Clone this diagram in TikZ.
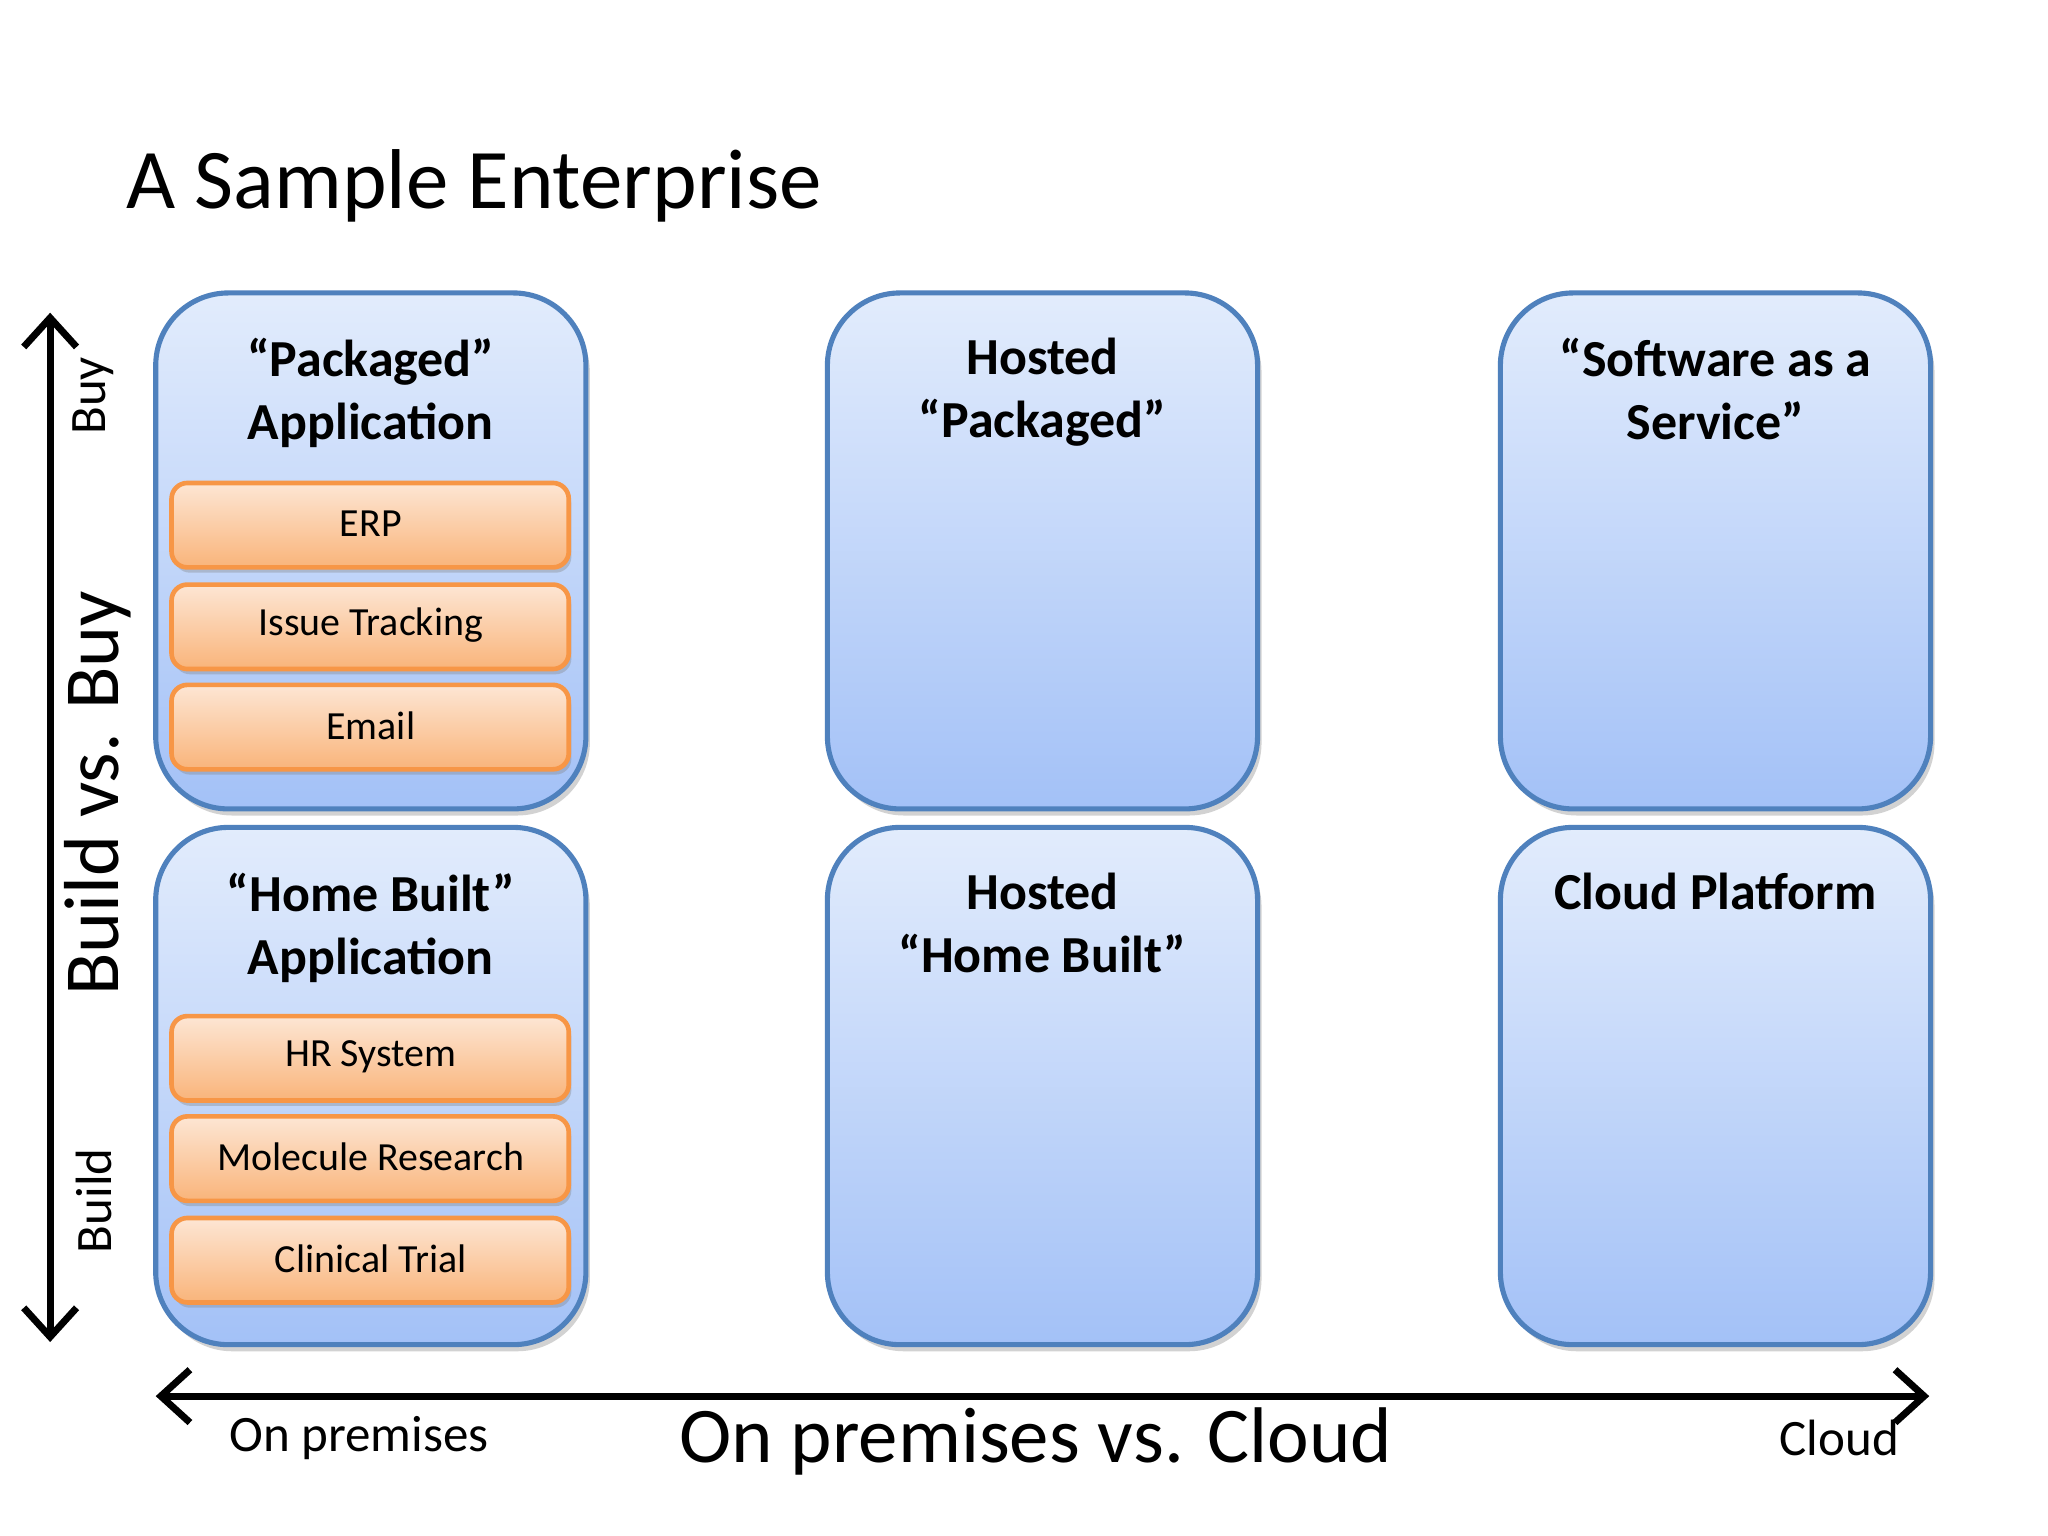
\documentclass[tikz,border=0pt]{standalone}
\usepackage{fontspec}
\setmainfont{Carlito}
\usetikzlibrary{shadows,arrows.meta}
\definecolor{boxtop}{HTML}{E2ECFC}
\definecolor{boxbot}{HTML}{A3C1F7}
\definecolor{boxline}{HTML}{4F81BD}
\definecolor{ortop}{HTML}{FDE6D4}
\definecolor{orbot}{HTML}{F9B47A}
\definecolor{orline}{HTML}{F79646}
\begin{document}
\begin{tikzpicture}[x=0.01cm,y=-0.01cm,
  big/.style={draw=boxline, line width=1.1pt, rounded corners=0.55cm, top color=boxtop, bottom color=boxbot,
    drop shadow={shadow xshift=0.03cm, shadow yshift=-0.05cm, opacity=0.35}},
  item/.style={draw=orline, line width=1pt, rounded corners=0.12cm, top color=ortop, bottom color=orbot,
    drop shadow={shadow xshift=0.02cm, shadow yshift=-0.04cm, opacity=0.35}},
  btitle/.style={font=\fontsize{11.2}{13.6}\selectfont\bfseries, align=center, anchor=north},
  itext/.style={font=\fontsize{8.6}{10}\selectfont},
  small/.style={font=\fontsize{11}{12}\selectfont},
  axis/.style={line width=1.5pt, {Straight Barb[length=0.22cm,width=0.4cm]}-{Straight Barb[length=0.22cm,width=0.4cm]}}]
\useasboundingbox[fill=white] (0,0) rectangle (1552,1164);
\node[anchor=base west, inner sep=0, font=\fontsize{18.3}{22}\selectfont] (title) at (95,158) {A Sample Enterprise};

% big boxes
\foreach \n/\x in {a/118,b/627,c/1137}{
  \path[big] (\x,222) rectangle ++(326,391);
  \path[big] (\x,627) rectangle ++(326,392);
}
\node[btitle] (t1) at (281,244) {“Packaged”\\Application};
\node[btitle] (t2) at (790,244) {Hosted\\“Packaged”};
\node[btitle] (t3) at (1300,244) {“Software as a\\Service”};
\node[btitle] (t4) at (281,649) {“Home Built”\\Application};
\node[btitle] (t5) at (790,649) {Hosted\\“Home Built”};
\node[btitle] (t6) at (1300,649) {Cloud Platform};

% items
\foreach \y/\t in {366/ERP,443/Issue Tracking,519/Email,770/HR System,846/Molecule Research,923/Clinical Trial}{
  \path[item] (130,\y) rectangle ++(301,64);
  \node[itext] at (281,\y+31) {\t};
}

% axes
\coordinate (vt) at (38,237);
\coordinate (vb) at (38,1017);
\draw[axis] (vb) -- (vt);
\node[rotate=90, small] (buy) at (71,300) {Buy};
\node[rotate=90, font=\fontsize{16.8}{20}\selectfont] (bvb) at (74,601) {Build vs. Buy};
\node[rotate=90, small] (build) at (71,910) {Build};
\coordinate (hl) at (118,1058);
\coordinate (hr) at (1462,1058);
\draw[axis] (hl) -- (hr);
\node[small] (onp) at (272,1090) {On premises};
\node[font=\fontsize{17}{20}\selectfont] (opc) at (785,1092) {On premises vs. Cloud};
\node[small] (cloud) at (1394,1090) {Cloud};
\end{tikzpicture}
\end{document}
